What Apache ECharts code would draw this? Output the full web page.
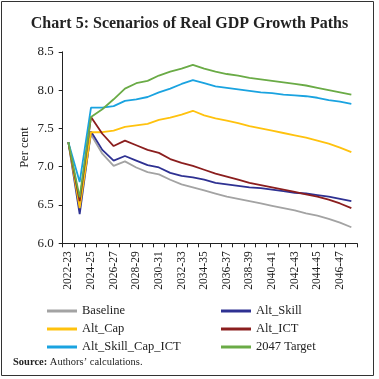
<!DOCTYPE html>
<html>
<head>
<meta charset="utf-8">
<script src="https://cdn.jsdelivr.net/npm/echarts@6/dist/echarts.min.js"></script>
<style>
html,body{margin:0;padding:0;background:#fff;}
#c{width:379px;height:379px;}
</style>
</head>
<body>
<div id="c"></div>
<script>
const categories = ["2022-23","2023-24","2024-25","2025-26","2026-27","2027-28","2028-29","2029-30","2030-31","2031-32","2032-33","2033-34","2034-35","2035-36","2036-37","2037-38","2038-39","2039-40","2040-41","2041-42","2042-43","2043-44","2044-45","2045-46","2046-47","2047-48"];
const baseline   = [7.32,6.50,7.42,7.17,7.01,7.07,6.99,6.93,6.90,6.83,6.77,6.73,6.69,6.65,6.61,6.58,6.55,6.52,6.49,6.46,6.43,6.39,6.36,6.32,6.27,6.21];
const altSkill   = [7.32,6.38,7.46,7.22,7.08,7.14,7.08,7.02,6.99,6.92,6.88,6.86,6.83,6.79,6.77,6.75,6.73,6.72,6.70,6.68,6.66,6.65,6.63,6.61,6.58,6.55];
const altCap     = [7.32,6.46,7.45,7.45,7.47,7.52,7.54,7.56,7.61,7.64,7.68,7.73,7.67,7.63,7.60,7.57,7.53,7.50,7.47,7.44,7.41,7.38,7.34,7.30,7.25,7.19];
const altICT     = [7.32,6.55,7.65,7.43,7.27,7.34,7.28,7.22,7.18,7.10,7.05,7.01,6.96,6.91,6.87,6.83,6.79,6.76,6.73,6.70,6.67,6.64,6.61,6.57,6.52,6.46];
const altAll     = [7.32,6.80,7.77,7.77,7.79,7.86,7.88,7.91,7.97,8.02,8.08,8.13,8.09,8.05,8.03,8.01,7.99,7.97,7.96,7.94,7.93,7.92,7.90,7.87,7.85,7.82];
const target2047 = [7.32,6.60,7.65,7.75,7.88,8.02,8.09,8.12,8.19,8.24,8.28,8.33,8.28,8.24,8.21,8.19,8.16,8.14,8.12,8.10,8.08,8.06,8.03,8.00,7.97,7.94];
const yTicks = [6.0,6.5,7.0,7.5,8.0,8.5];

const serif = '"Liberation Serif","DejaVu Serif",serif';
const colors = {
  'Baseline':'#a3a3a3','Alt_Skill':'#2e3192','Alt_Cap':'#ffc20e',
  'Alt_ICT':'#8b1e1e','Alt_Skill_Cap_ICT':'#1aa3e0','2047 Target':'#6aab46'
};
const seriesDefs = [
  ['Baseline',baseline],['Alt_Skill',altSkill],['Alt_Cap',altCap],
  ['Alt_ICT',altICT],['Alt_Skill_Cap_ICT',altAll],['2047 Target',target2047]
];
const chart = echarts.init(document.getElementById('c'), null, {renderer:'canvas'});
const legendCommon = {
  orient:'vertical', top:297, itemGap:0, itemWidth:30, itemHeight:3, icon:'rect',
  textStyle:{fontFamily:serif, fontSize:12.5, color:'#222', lineHeight:18}
};
chart.setOption({
  animation:false,
  backgroundColor:'#fff',
  title:{
    text:'Chart 5: Scenarios of Real GDP Growth Paths',
    left:'center', top:11,
    textStyle:{fontFamily:serif, fontWeight:'bold', fontSize:16, color:'#222'}
  },
  grid:{left:62.7, right:22, top:51.8, bottom:135.7, containLabel:false},
  legend:[
    Object.assign({left:42, data:['Baseline','Alt_Cap','Alt_Skill_Cap_ICT']}, legendCommon),
    Object.assign({left:216, data:['Alt_Skill','Alt_ICT','2047 Target']}, legendCommon)
  ],
  xAxis:{
    type:'category', data:categories, boundaryGap:true,
    axisLine:{lineStyle:{color:'#222', width:1}},
    axisTick:{show:true, interval:0, length:4, lineStyle:{color:'#222'}},
    axisLabel:{interval:1, rotate:90, margin:8, fontFamily:serif, fontSize:11.5, color:'#222'}
  },
  yAxis:{
    type:'value', min:6.0, max:8.5, interval:0.5,
    name:'Per cent', nameLocation:'middle', nameGap:31, nameMoveOverlap:false,
    nameTextStyle:{fontFamily:serif, fontSize:12.5, color:'#222'},
    splitLine:{show:false},
    axisLine:{show:true, lineStyle:{color:'#222', width:1}},
    axisTick:{show:true, length:4, lineStyle:{color:'#222'}},
    axisLabel:{margin:9, fontFamily:serif, fontSize:13, color:'#222',
      formatter:v=>yTicks.includes(Math.round(v*10)/10)?v.toFixed(1):''}
  },
  series:seriesDefs.map(([n,d])=>({
    name:n, type:'line', data:d, symbol:'none', smooth:false,
    lineStyle:{color:colors[n], width:1.8}, itemStyle:{color:colors[n]}
  })),
  graphic:[
    {type:'rect', shape:{x:1.5,y:1.5,width:372,height:374}, style:{fill:'none', stroke:'#333', lineWidth:1}, silent:true},
    {type:'text', left:13, top:357, style:{
      text:'{b|Source:} Authors\u2019 calculations.',
      rich:{b:{fontWeight:'bold', fontFamily:serif, fontSize:10.5, fill:'#222'}},
      fontFamily:serif, fontSize:10.5, fill:'#222'
    }}
  ]
});
</script>
</body>
</html>
